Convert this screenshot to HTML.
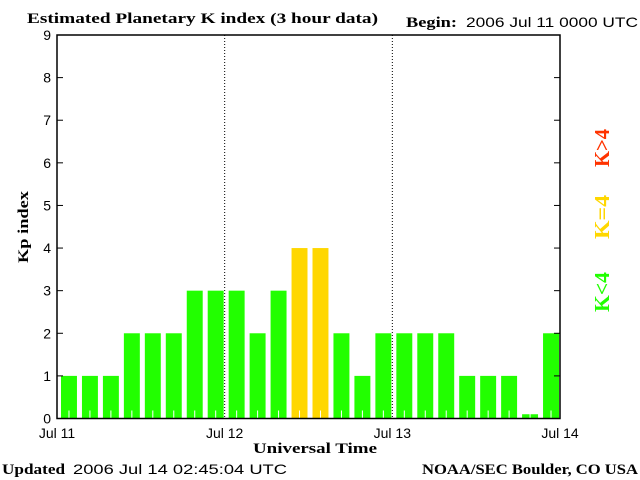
<!DOCTYPE html>
<html><head><meta charset="utf-8"><style>
html,body{margin:0;padding:0;background:#fff;}
svg{display:block;}
.s{font-family:"Liberation Sans",sans-serif;font-size:14px;}
.b{font-family:"Liberation Serif",serif;font-weight:bold;font-size:15px;}
</style></head><body>
<svg id="chart" width="640" height="480" xmlns="http://www.w3.org/2000/svg">
<text class="b" x="27" y="23" textLength="351" lengthAdjust="spacingAndGlyphs">Estimated Planetary K index (3 hour data)</text>
<text class="b" x="406" y="27" textLength="51" lengthAdjust="spacingAndGlyphs">Begin:</text>
<text class="s" x="466" y="27" textLength="172" lengthAdjust="spacingAndGlyphs">2006 Jul 11 0000 UTC</text>
<text class="b" x="28" y="227" transform="rotate(-90 28 227)" text-anchor="middle" textLength="72" lengthAdjust="spacingAndGlyphs">Kp index</text>
<text class="b" x="315" y="453" text-anchor="middle" textLength="124" lengthAdjust="spacingAndGlyphs">Universal Time</text>
<text class="b" x="2" y="474" textLength="63" lengthAdjust="spacingAndGlyphs">Updated</text>
<text class="s" x="73" y="474" textLength="214" lengthAdjust="spacingAndGlyphs">2006 Jul 14 02:45:04 UTC</text>
<text class="b" x="422" y="474" textLength="216" lengthAdjust="spacingAndGlyphs">NOAA/SEC Boulder, CO USA</text>
<g class="b" style="font-size:21px">
<text x="609" y="292" transform="rotate(-90 609 292)" text-anchor="middle" textLength="40" lengthAdjust="spacingAndGlyphs" fill="#22ff00">K&lt;4</text>
<text x="609" y="217" transform="rotate(-90 609 217)" text-anchor="middle" textLength="44" lengthAdjust="spacingAndGlyphs" fill="#ffd700">K=4</text>
<text x="609" y="148" transform="rotate(-90 609 148)" text-anchor="middle" textLength="38" lengthAdjust="spacingAndGlyphs" fill="#ff3300">K&gt;4</text>
</g>
<g id="plot"></g>
</svg>
<script>
const kpValues=[1,1,1,2,2,2,3,3,3,2,3,4,4,2,1,2,2,2,2,1,1,1,0.1,2];
const yTicks=[0,1,2,3,4,5,6,7,8,9];
const dayLabels=["Jul 11","Jul 12","Jul 13","Jul 14"];
const L=57,R=560,T=35,B=418.5;
const NS="http://www.w3.org/2000/svg";
const g=document.getElementById('plot');
const x=i=>L+(R-L)*i/kpValues.length;
const y=v=>B-(B-T)*v/9;
function mk(t,a){const e=document.createElementNS(NS,t);for(const k in a)e.setAttribute(k,a[k]);g.appendChild(e);return e;}
const slot=(R-L)/kpValues.length;
kpValues.forEach((v,i)=>{
 const c=v>4?'#ff3300':(v==4?'#ffd700':'#22ff00');
 const r=mk('rect',{x:x(i)+4,y:y(v),width:slot-5,height:B-y(v),fill:c});
 
 
 const t=mk('line',{x1:x(i)+4+(slot-5)/2,x2:x(i)+4+(slot-5)/2,y1:B-8,y2:B,stroke:'#fff','stroke-width':1});
 
 
});
yTicks.forEach(v=>{
 const a=mk('line',{x1:L,x2:L+6,y1:y(v),y2:y(v),stroke:'#000'});
 
 
 const b=mk('line',{x1:R-6,x2:R,y1:y(v),y2:y(v),stroke:'#000'});
 
 
 const t=mk('text',{x:L-6,y:y(v)+5,'text-anchor':'end',class:'s'});
 t.textContent=v;
 
 
});
dayLabels.forEach((d,i)=>{
 const px=L+(R-L)*i/3;
 if(i>0&&i<3){const l=mk('line',{x1:px,x2:px,y1:T,y2:B,stroke:'#000','stroke-dasharray':'1,2'});
 
 }
 const t=mk('text',{x:px,y:438,'text-anchor':'middle',class:'s'});
 t.textContent=d;
 
 
});
const f=mk('rect',{x:L,y:T,width:R-L,height:B-T,fill:'none',stroke:'#000','stroke-width':1.5});


</script>
</body></html>
